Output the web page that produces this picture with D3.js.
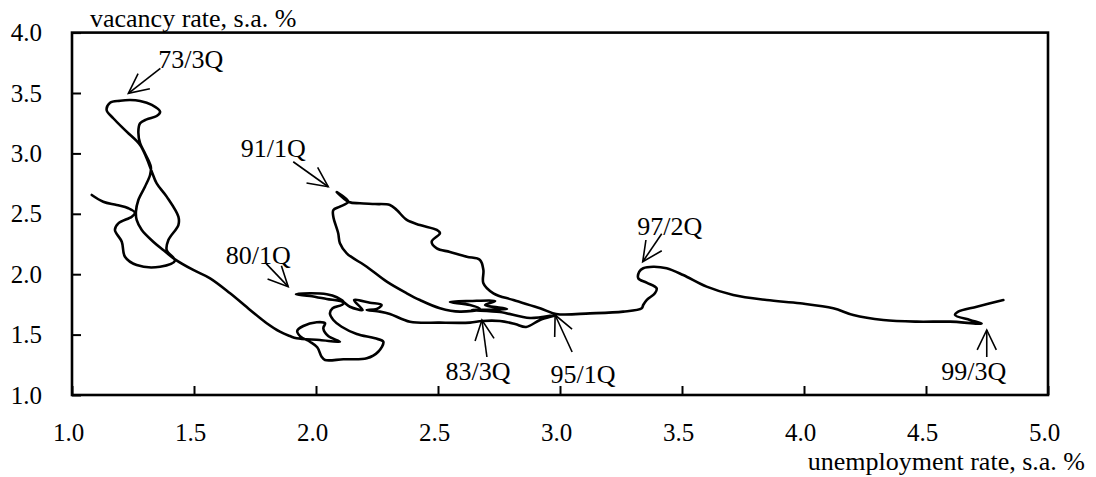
<!DOCTYPE html>
<html>
<head>
<meta charset="utf-8">
<script src="https://cdn.jsdelivr.net/npm/d3@7"></script>
<style>
body{margin:0;background:#fff}
svg text{font-family:"Liberation Serif","Times New Roman","DejaVu Serif",serif;font-size:26px;fill:#000}
</style>
</head>
<body>
<svg id="chart" width="1096" height="477"></svg>
<script>
// unemployment rate (x) and vacancy rate (y), s.a. % in time order
let unemp=[1.081,1.128,1.183,1.231,1.258,1.245,1.190,1.176,1.204,1.217,1.265,1.361,1.422,1.388,1.395,1.436,1.436,1.388,1.347,1.327,
  1.306,1.279,1.224,1.169,1.142,1.156,1.197,1.238,1.279,1.327,1.361,1.347,1.306,1.279,1.272,1.279,1.299,1.323,1.320,1.299,
  1.272,1.262,1.265,1.286,1.333,1.374,1.422,1.497,1.566,1.648,1.730,1.798,1.852,1.893,1.921,2.016,2.098,2.050,2.030,2.037,
  2.003,1.948,1.923,1.937,1.975,2.005,2.023,2.037,2.112,2.208,2.255,2.276,2.242,2.167,2.105,2.071,2.057,2.068,2.105,2.115,
  2.085,2.044,1.975,1.918,1.975,2.044,2.111,2.139,2.191,2.156,2.221,2.269,2.249,2.208,2.262,2.303,2.385,2.508,2.631,2.680,
  2.754,2.816,2.861,2.918,2.984,2.877,2.754,2.639,2.783,2.693,2.734,2.631,2.549,2.631,2.672,2.590,2.508,2.426,2.372,2.290,
  2.208,2.126,2.098,2.091,2.071,2.071,2.098,2.132,2.085,2.135,2.180,2.242,2.303,2.331,2.372,2.426,2.495,2.508,2.474,2.495,
  2.549,2.618,2.672,2.686,2.686,2.727,2.809,2.918,2.984,3.123,3.259,3.335,3.341,3.355,3.389,3.396,3.355,3.321,3.325,3.341,
  3.382,3.437,3.505,3.601,3.710,3.847,3.984,4.120,4.202,4.325,4.462,4.598,4.728,4.680,4.619,4.632,4.708,4.817]
let vacancy=[2.656,2.600,2.573,2.546,2.509,2.476,2.421,2.366,2.269,2.145,2.076,2.062,2.112,2.200,2.283,2.407,2.476,2.642,2.752,2.849,
  2.959,3.070,3.180,3.291,3.359,3.420,3.436,3.442,3.434,3.401,3.345,3.310,3.282,3.249,3.180,3.084,3.001,2.890,2.821,2.724,
  2.614,2.517,2.449,2.366,2.269,2.200,2.123,2.035,1.966,1.842,1.704,1.594,1.524,1.488,1.469,1.455,1.441,1.488,1.552,1.594,
  1.602,1.571,1.530,1.483,1.441,1.395,1.317,1.290,1.296,1.304,1.358,1.441,1.469,1.505,1.565,1.621,1.676,1.718,1.745,1.764,
  1.809,1.834,1.842,1.834,1.820,1.795,1.770,1.731,1.704,1.786,1.764,1.745,1.712,1.704,1.690,1.671,1.607,1.599,1.599,1.613,
  1.613,1.588,1.563,1.621,1.662,1.637,1.687,1.704,1.712,1.745,1.778,1.778,1.770,1.745,1.712,1.690,1.718,1.786,1.842,1.938,
  2.062,2.173,2.256,2.339,2.476,2.531,2.559,2.600,2.680,2.598,2.587,2.581,2.573,2.531,2.449,2.407,2.366,2.339,2.269,2.214,
  2.184,2.145,2.118,2.035,1.925,1.842,1.786,1.718,1.671,1.676,1.690,1.718,1.745,1.786,1.842,1.883,1.930,1.966,2.021,2.049,
  2.062,2.049,1.993,1.897,1.828,1.786,1.759,1.718,1.662,1.621,1.607,1.607,1.592,1.621,1.662,1.690,1.731,1.786]

let xTicks=[1.0,1.5,2.0,2.5,3.0,3.5,4.0,4.5,5.0]
let yTicks=[1.0,1.5,2.0,2.5,3.0,3.5,4.0]

// period labels: where each arrow points (data units)
let noteLabels=['73/3Q','91/1Q','80/1Q','83/3Q','95/1Q','97/2Q','99/3Q']
let noteU=[1.231,2.050,1.886,2.680,2.980,3.339,4.749]
let noteV=[3.497,2.724,1.897,1.621,1.662,2.103,1.538]
// arrow tail offset from tip and label offset from tail (px)
let noteLayout=[
  {dx:32,dy:-25,lx:-2,ly:0,anchor:'start'},
  {dx:-35,dy:-25,lx:-20,ly:-5,anchor:'middle'},
  {dx:-22,dy:-23,lx:-8,ly:0,anchor:'middle'},
  {dx:5,dy:37,lx:-9,ly:23,anchor:'middle'},
  {dx:17,dy:37,lx:11,ly:31,anchor:'middle'},
  {dx:19,dy:-28,lx:8,ly:1,anchor:'middle'},
  {dx:0,dy:27,lx:-13,ly:23,anchor:'middle'}
]

let serif='"Liberation Serif","Times New Roman","DejaVu Serif",serif'
let svg=d3.select('#chart').attr('font-family',serif)
let plotLeft=72,plotRight=1048,plotTop=32.6,plotBottom=395

let x=d3.scaleLinear().domain([1,5]).range([plotLeft,plotRight])
let y=d3.scaleLinear().domain([1,4]).range([plotBottom,plotTop])

// frame
svg.append('rect')
   .attr('x',plotLeft).attr('y',plotTop)
   .attr('width',plotRight-plotLeft).attr('height',plotBottom-plotTop)
   .attr('fill','none').attr('stroke','#000').attr('stroke-width',2.6)

let xAxis=svg.append('g')
   .attr('transform','translate(0,'+plotBottom+')')
   .call(d3.axisBottom(x).tickValues(xTicks).tickFormat(d3.format('.1f')).tickSizeInner(-9).tickSizeOuter(0).tickPadding(28))
xAxis.attr('font-family',serif)
xAxis.select('.domain').remove()
xAxis.selectAll('line').attr('stroke','#000').attr('stroke-width',2)
xAxis.selectAll('text').attr('dx',-4).style('font-size','25px')

let yAxis=svg.append('g')
   .attr('transform','translate('+plotLeft+',0)')
   .call(d3.axisLeft(y).tickValues(yTicks).tickFormat(d3.format('.1f')).tickSizeInner(-9).tickSizeOuter(0).tickPadding(30))
yAxis.attr('font-family',serif)
yAxis.select('.domain').remove()
yAxis.selectAll('line').attr('stroke','#000').attr('stroke-width',2)
yAxis.selectAll('text').style('font-size','25px')

svg.append('text').attr('x',90).attr('y',27).text('vacancy rate, s.a. %')
svg.append('text').attr('x',1085).attr('y',470).attr('text-anchor','end').text('unemployment rate, s.a. %')

// the curve
let points=unemp.map((u,i)=>[u,vacancy[i]])
let line=d3.line()
   .x(d=>x(d[0]))
   .y(d=>y(d[1]))
   .curve(d3.curveCatmullRom.alpha(0.5))

svg.append('path')
   .datum(points)
   .attr('d',line)
   .attr('fill','none')
   .attr('stroke','#000')
   .attr('stroke-width',2.6)
   .attr('stroke-linejoin','round')
   .attr('stroke-linecap','round')

// arrows with labels
let notes=svg.append('g')
noteLabels.forEach((label,i)=>{
    let lay=noteLayout[i]
    let tx=x(noteU[i]),ty=y(noteV[i])
    let sx=tx+lay.dx,sy=ty+lay.dy
    let ang=Math.atan2(sy-ty,sx-tx)
    let arm=22,spread=0.45
    let g=notes.append('g').attr('stroke','#000').attr('stroke-width',1.6).attr('fill','none')
    g.append('line').attr('x1',sx).attr('y1',sy).attr('x2',tx).attr('y2',ty)
    g.append('polyline')
     .attr('points',[
        [tx+arm*Math.cos(ang-spread),ty+arm*Math.sin(ang-spread)],
        [tx,ty],
        [tx+arm*Math.cos(ang+spread),ty+arm*Math.sin(ang+spread)]
     ].map(p=>p.join(',')).join(' '))
    notes.append('text')
     .attr('x',sx+lay.lx).attr('y',sy+lay.ly)
     .attr('text-anchor',lay.anchor)
     .text(label)
})
</script>
</body>
</html>
